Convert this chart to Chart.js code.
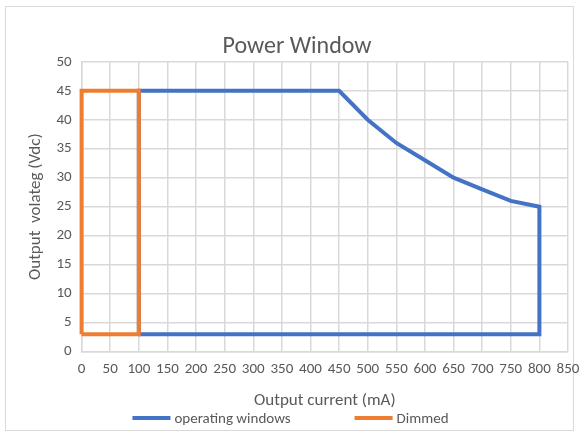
<!DOCTYPE html>
<html>
<head>
<meta charset="utf-8">
<script src="https://cdn.jsdelivr.net/npm/chart.js@4/dist/chart.umd.min.js"></script>
<style>
  html, body { margin: 0; padding: 0; background: #fff; }
  #wrap { position: relative; width: 581px; height: 435px; }
</style>
</head>
<body>
<div id="wrap"><canvas id="powerChart" width="581" height="435"></canvas></div>
<script>
// operating window outline (current mA, voltage Vdc)
const opCurrent = [100, 100, 450, 500, 550, 600, 650, 700, 750, 800, 800, 100];
const opVoltage = [3, 45, 45, 40, 36, 33, 30, 28, 26, 25, 3, 3];
// dimmed range outline
const dimCurrent = [0, 0, 100, 100, 0];
const dimVoltage = [3, 45, 45, 3, 3];

const toPoints = (xs, ys) => xs.map((x, i) => ({ x: x, y: ys[i] }));

const textGrey = "#595959";
const gridGrey = "#d9d9d9";
const fontFamily = "Carlito, Lato, 'Open Sans', sans-serif";
Chart.defaults.font.family = fontFamily;
Chart.defaults.color = textGrey;

// light frame round the whole chart, like the office export
const framePlugin = {
  id: "frame",
  beforeDraw(chart) {
    const ctx = chart.ctx;
    ctx.save();
    ctx.fillStyle = "#fff";
    ctx.fillRect(0, 0, chart.width, chart.height);
    ctx.strokeStyle = gridGrey;
    ctx.lineWidth = 1;
    ctx.strokeRect(5.5, 6.5, 568, 424);
    ctx.restore();
  },
};

// legend drawn by hand: the built-in one uses the same padding up and down
const legendPlugin = {
  id: "lineLegend",
  afterDraw(chart) {
    const ctx = chart.ctx;
    const sets = chart.data.datasets;
    const lineLen = 38, gapText = 4, gapItems = 64, y = 419;
    ctx.save();
    ctx.font = "15px " + fontFamily;
    ctx.textBaseline = "middle";
    const widths = sets.map((d) => lineLen + gapText + ctx.measureText(d.label).width);
    const total = widths.reduce((a, b) => a + b, 0) + gapItems * (sets.length - 1);
    let x = chart.width / 2 - total / 2;
    sets.forEach((d, i) => {
      ctx.strokeStyle = d.borderColor;
      ctx.lineWidth = 4;
      ctx.beginPath();
      ctx.moveTo(x, y - 1);
      ctx.lineTo(x + lineLen, y - 1);
      ctx.stroke();
      ctx.fillStyle = textGrey;
      ctx.fillText(d.label, x + lineLen + gapText, y);
      x += widths[i] + gapItems;
    });
    ctx.restore();
  },
};

const config = {
  type: "scatter",
  data: {
    datasets: [
      {
        label: "operating windows",
        data: toPoints(opCurrent, opVoltage),
        showLine: true,
        borderColor: "#4472C4",
        backgroundColor: "#4472C4",
        borderWidth: 4,
        pointRadius: 0,
        tension: 0,
        clip: false,
        order: 1,
      },
      {
        label: "Dimmed",
        data: toPoints(dimCurrent, dimVoltage),
        showLine: true,
        borderColor: "#ED7D31",
        backgroundColor: "#ED7D31",
        borderWidth: 4,
        pointRadius: 0,
        tension: 0,
        clip: false,
        order: 0,
      },
    ],
  },
  options: {
    responsive: false,
    animation: false,
    layout: { padding: { left: 26, right: 13, top: 9, bottom: 24 } },
    plugins: {
      title: {
        display: true,
        text: "Power Window",
        font: { size: 24, weight: "normal" },
        color: textGrey,
        padding: { top: 24, bottom: 0 },
      },
      legend: { display: false },
      tooltip: { enabled: false },
    },
    scales: {
      x: {
        type: "linear",
        min: 0,
        max: 850,
        afterFit: (scale) => {
          scale.paddingRight = 0;
        },
        ticks: {
          stepSize: 50,
          font: { size: 15 },
          color: textGrey,
          padding: 9,
          maxRotation: 0,
          minRotation: 0,
          autoSkip: false,
        },
        grid: { color: gridGrey, lineWidth: 1.5, drawTicks: false },
        border: { color: gridGrey, width: 1.5 },
        title: {
          display: true,
          text: "Output current (mA)",
          font: { size: 17 },
          color: textGrey,
          padding: { top: 3, bottom: 0 },
        },
      },
      y: {
        min: 0,
        max: 50,
        ticks: { stepSize: 5, font: { size: 15 }, color: textGrey, padding: 10 },
        grid: { color: gridGrey, lineWidth: 1.5, drawTicks: false },
        border: { color: gridGrey, width: 1.5 },
        title: {
          display: true,
          text: "Output  volateg (Vdc)",
          font: { size: 17 },
          color: textGrey,
          padding: { top: 0, bottom: 0 },
        },
      },
    },
  },
  plugins: [framePlugin, legendPlugin],
};

const ctx = document.getElementById("powerChart").getContext("2d");
window.powerChart = new Chart(ctx, config);
</script>
</body>
</html>
